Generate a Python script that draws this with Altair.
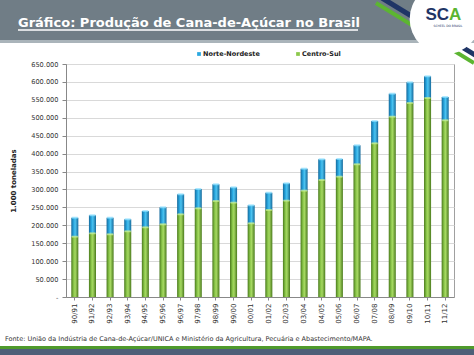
import altair as alt
import pandas as pd

safras = ["90/91", "91/92", "92/93", "93/94", "94/95", "95/96", "96/97", "97/98",
          "98/99", "99/00", "00/01", "01/02", "02/03", "03/04", "04/05", "05/06",
          "06/07", "07/08", "08/09", "09/10", "10/11", "11/12"]
centro_sul = [168200, 177700, 174900, 183300, 194400, 202800, 230700, 247400,
              267800, 263100, 205600, 242700, 268700, 296600, 326400, 335600,
              370200, 428800, 503000, 541300, 555200, 493000]
norte_nordeste = [53000, 50300, 46300, 33400, 45600, 47400, 55800, 53900,
                  46600, 42900, 50200, 48300, 48500, 61400, 57800, 49400,
                  53000, 62200, 64200, 57700, 60500, 65000]
y_ticks = [0, 50000, 100000, 150000, 200000, 250000, 300000, 350000, 400000,
           450000, 500000, 550000, 600000, 650000]

df = pd.DataFrame({"safra": safras, "cs": centro_sul, "nn": norte_nordeste})
df["total"] = df["cs"] + df["nn"]
df["zero"] = 0

W, H = 388, 233
L, T = 66, 64

xaxis = alt.Axis(labelAngle=270, labelFontSize=7, labelColor="#333333",
                 labelFont="DejaVu Sans", domainColor="#888888",
                 tickColor="#888888", tickSize=3, labelPadding=3)
xscale = alt.Scale(paddingInner=0.6, paddingOuter=0.3)
yscale = alt.Scale(domain=[0, 650000], nice=False)
yaxis = alt.Axis(values=y_ticks, labelOverlap=False,
                 labelExpr="datum.value == 0 ? '-' : format(datum.value/1000, '.3f')",
                 labelFontSize=6.6, labelColor="#333333", labelFont="DejaVu Sans",
                 gridColor="#d9d9d9", domainColor="#888888", tickColor="#888888",
                 tickSize=4, labelPadding=4, title="1.000 toneladas",
                 titleFontSize=7, titleFont="DejaVu Sans", titleFontWeight="bold",
                 titleColor="#222222", titlePadding=14)


def X():
    return alt.X("safra:N", sort=safras, title=None, scale=xscale, axis=xaxis)


def Y(field):
    return alt.Y(field, scale=yscale, axis=yaxis)


green_grad = alt.Gradient(gradient="linear", x1=0, x2=1, y1=0, y2=0, stops=[
    alt.GradientStop(color="#4a7a1c", offset=0),
    alt.GradientStop(color="#8cc84b", offset=0.35),
    alt.GradientStop(color="#a6d862", offset=0.55),
    alt.GradientStop(color="#4a7a1c", offset=1)])
blue_grad = alt.Gradient(gradient="linear", x1=0, x2=1, y1=0, y2=0, stops=[
    alt.GradientStop(color="#156a9c", offset=0),
    alt.GradientStop(color="#2aa8e0", offset=0.35),
    alt.GradientStop(color="#4cc3f0", offset=0.55),
    alt.GradientStop(color="#156a9c", offset=1)])

base = alt.Chart(df)
green = base.mark_bar(color=green_grad).encode(x=X(), y=Y("cs:Q"), y2="zero:Q")
blue = base.mark_bar(color=blue_grad).encode(x=X(), y=Y("total:Q"), y2="cs:Q")
gcap = base.mark_tick(color="#c8ef8a", thickness=2, size=6).encode(x=X(), y=Y("cs:Q"))
bcap = base.mark_tick(color="#8fe0ff", thickness=2, size=6).encode(x=X(), y=Y("total:Q"))

one = pd.DataFrame({"a": [0]})
d = alt.Chart(one)


def px(v):
    return alt.value(v - L)


def py(v):
    return alt.value(v - T)


title_bar = d.mark_rect(color="#707d86").encode(x=px(0), x2=px(474), y=py(0), y2=py(40))
title_strip = d.mark_rect(color="#aab4ba").encode(x=px(0), x2=px(474), y=py(40), y2=py(43))
stripe_navy = d.mark_rule(color="#1f3566", strokeWidth=5).encode(
    x=px(382), x2=px(480), y=py(-2), y2=py(58))
stripe_green = d.mark_rule(color="#5cb531", strokeWidth=4).encode(
    x=px(376), x2=px(474), y=py(3), y2=py(63))
circle = d.mark_point(shape="circle", filled=True, color="white", opacity=1,
                      size=5000).encode(x=px(445), y=py(19))
logo_s = d.mark_text(text="SC", font="Liberation Sans", fontWeight="bold",
                     fontSize=17, color="#1f3566", align="right",
                     baseline="middle").encode(x=px(449), y=py(15))
logo_a = d.mark_text(text="A", font="Liberation Sans", fontWeight="bold",
                     fontSize=17, color="#5cb531", align="left",
                     baseline="middle").encode(x=px(449), y=py(15))
logo_sub = d.mark_text(text="SCHEEL DO BRASIL", font="DejaVu Sans", fontSize=3,
                       color="#1f3566", align="center",
                       baseline="middle").encode(x=px(448), y=py(26))
title = d.mark_text(text="Gráfico: Produção de Cana-de-Açúcar no Brasil",
                    font="DejaVu Sans", fontWeight="bold", fontSize=13,
                    color="white", align="left", baseline="alphabetic").encode(
    x=px(18), y=py(27))
underline = d.mark_rule(color="white", strokeWidth=1.3).encode(
    x=px(18), x2=px(358), y=py(30), y2=py(30))

leg_b = d.mark_square(color="#2aa8e0", size=14, opacity=1).encode(x=px(199), y=py(54))
leg_bt = d.mark_text(text="Norte-Nordeste", font="DejaVu Sans", fontWeight="bold",
                     fontSize=6.5, color="#222222", align="left",
                     baseline="middle").encode(x=px(203), y=py(54))
leg_g = d.mark_square(color="#8cc84b", size=14, opacity=1).encode(x=px(298), y=py(54))
leg_gt = d.mark_text(text="Centro-Sul", font="DejaVu Sans", fontWeight="bold",
                     fontSize=6.5, color="#222222", align="left",
                     baseline="middle").encode(x=px(302), y=py(54))

fonte = d.mark_text(
    text="Fonte: União da Indústria de Cana-de-Açúcar/UNICA e Ministério da Agricultura, Pecuária e Abastecimento/MAPA.",
    font="DejaVu Sans", fontSize=6.5, color="#333333", align="left",
    baseline="middle").encode(x=px(5), y=py(339))
green_line = d.mark_rect(color="#4f9a2c").encode(x=px(0), x2=px(474), y=py(346), y2=py(349))
bottom_band = d.mark_rect(color="#4e5f78").encode(x=px(0), x2=px(474), y=py(349), y2=py(355))

chart = alt.layer(
    green, blue, gcap, bcap,
    title_bar, title_strip, stripe_navy, stripe_green, circle, logo_s, logo_a,
    logo_sub, title, underline, leg_b, leg_bt, leg_g, leg_gt, fonte,
    green_line, bottom_band
).properties(
    width=W, height=H,
    autosize=alt.AutoSizeParams(type="none"),
    padding={"left": L, "top": T, "right": 474 - L - W, "bottom": 355 - T - H},
    background="white"
).configure_view(stroke="#a0a0a0", strokeWidth=1)

chart.save("out.html", embed_options={"renderer": "svg", "actions": False})
